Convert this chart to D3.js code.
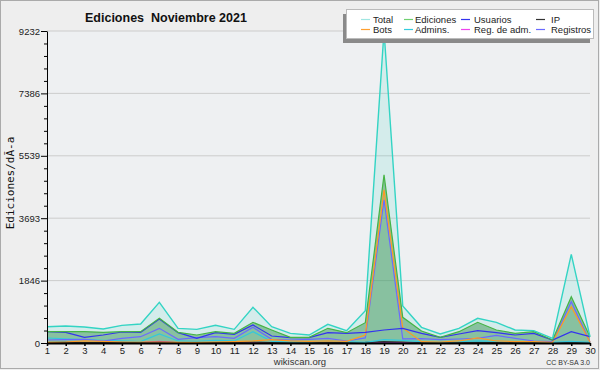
<!DOCTYPE html>
<html>
<head>
<meta charset="utf-8">
<script src="https://cdn.jsdelivr.net/npm/d3@7"></script>
<style>
body { margin: 0; background: #eeeeee; }
svg { display: block; }
.axis text { font-family: "Liberation Sans", sans-serif; font-size: 9.5px; fill: #222; }
.axis path, .axis line { stroke: #000; }
</style>
</head>
<body>
<svg width="600" height="370"></svg>
<script>
// Days of the month
var days = [1, 2, 3, 4, 5, 6, 7, 8, 9, 10, 11, 12, 13, 14, 15, 16, 17, 18, 19, 20, 21, 22, 23, 24, 25, 26, 27, 28, 29, 30];
var yTicks = [0, 1846, 3693, 5539, 7386, 9232];

// Values
var total      = [483, 503, 473, 414, 523, 562, 1205, 434, 404, 523, 404, 1057, 483, 286, 237, 553, 365, 957, 9232, 1095, 464, 266, 434, 730, 612, 385, 365, 138, 2625, 187];
var ediciones  = [335, 335, 335, 316, 335, 335, 730, 316, 237, 335, 286, 612, 385, 168, 168, 434, 306, 602, 4973, 760, 355, 168, 335, 612, 385, 286, 335, 89, 1370, 187];
var usuarios   = [335, 316, 168, 237, 326, 316, 710, 306, 138, 306, 257, 533, 207, 158, 158, 306, 286, 316, 385, 434, 286, 168, 266, 365, 306, 237, 286, 89, 335, 187];
var ip         = [15, 20, 15, 10, 20, 15, 30, 15, 10, 15, 20, 25, 15, 10, 10, 20, 15, 20, 40, 30, 15, 10, 15, 20, 15, 10, 15, 5, 20, 10];
var bots       = [20, 30, 60, 50, 30, 30, 30, 20, 20, 30, 40, 60, 100, 60, 50, 60, 50, 237, 4530, 444, 40, 30, 60, 150, 60, 40, 40, 20, 1075, 30];
var admins     = [148, 120, 100, 80, 60, 40, 266, 60, 50, 80, 60, 335, 50, 30, 30, 60, 40, 20, 100, 80, 40, 30, 40, 60, 50, 40, 40, 20, 50, 20];
var regAdm     = [5, 5, 5, 5, 5, 10, 50, 5, 5, 5, 5, 15, 5, 5, 5, 5, 5, 5, 10, 10, 5, 5, 5, 5, 5, 5, 5, 5, 10, 5];
var registros  = [89, 100, 110, 59, 138, 187, 434, 109, 158, 187, 138, 464, 109, 89, 109, 138, 59, 150, 4233, 120, 130, 100, 118, 138, 226, 138, 59, 40, 1222, 30];

var seriesNames = ['Total', 'Ediciones', 'Usuarios', 'IP', 'Bots', 'Admins.', 'Reg. de adm.', 'Registros'];
var seriesColors = ['#33d4c4', '#44b444', '#3333ee', '#333333', '#ff9922', '#33c8dc', '#e040ee', '#6a6aff'];
var legendColors = ['#a0e6e2', '#70d070', '#3333ee', '#333333', '#ffa030', '#33ccdd', '#ee44ee', '#6a6aff'];
var seriesValues = [total, ediciones, usuarios, ip, bots, admins, regAdm, registros];

var svg = d3.select('svg');

var plot = {l: 47, r: 590, t: 31, b: 343};

// frame
svg.append('rect')
    .attr('x', 0.5).attr('y', 0.5)
    .attr('width', 598).attr('height', 368)
    .attr('fill', '#eeeeee')
    .attr('stroke', '#aaaaaa');

svg.append('rect')
    .attr('x', plot.l).attr('y', plot.t)
    .attr('width', plot.r - plot.l).attr('height', plot.b - plot.t)
    .attr('fill', '#eef0f2');

var x = d3.scaleLinear().domain([1, 30]).range([plot.l, plot.r]);
var y = d3.scaleLinear().domain([0, 9232]).range([plot.b, plot.t]);

// grid lines
svg.append('g').selectAll('line')
    .data(yTicks.slice(1))
    .enter().append('line')
    .attr('x1', plot.l).attr('x2', plot.r)
    .attr('y1', function(d) { return y(d); })
    .attr('y2', function(d) { return y(d); })
    .attr('stroke', '#cccccc');

// areas for Total and Ediciones
var area = d3.area()
    .x(function(d, i) { return x(days[i]); })
    .y0(y(0))
    .y1(function(d) { return y(d); });

svg.append('path').datum(total)
    .attr('d', area)
    .attr('fill', 'rgba(60, 215, 195, 0.14)');

svg.append('path').datum(ediciones)
    .attr('d', area)
    .attr('fill', 'rgba(60, 150, 85, 0.5)');

var line = d3.line()
    .x(function(d, i) { return x(days[i]); })
    .y(function(d) { return y(d); });

// draw order: small ones first, Total on top
var order = [6, 3, 5, 7, 4, 2, 1, 0];
order.forEach(function(k) {
    svg.append('path').datum(seriesValues[k])
        .attr('d', line)
        .attr('fill', 'none')
        .attr('stroke', seriesColors[k])
        .attr('stroke-width', k === 0 ? 1.4 : 1.2);
});

// axes
var yMinor = [];
for (var i = 0; i < yTicks.length - 1; i++) {
    for (var j = 1; j < 5; j++) {
        yMinor.push(yTicks[i] + (yTicks[i + 1] - yTicks[i]) * j / 5);
    }
}

svg.append('g')
    .attr('class', 'axis')
    .attr('transform', 'translate(' + plot.l + ',0)')
    .call(d3.axisLeft(y).tickValues(yMinor).tickSize(3).tickFormat(''))
    .select('.domain').remove();

var yAxisG = svg.append('g')
    .attr('class', 'axis')
    .attr('transform', 'translate(' + plot.l + ',0)')
    .call(d3.axisLeft(y).tickValues(yTicks).tickSize(6).tickSizeOuter(0).tickPadding(1).tickFormat(d3.format('d')));

var xAxisG = svg.append('g')
    .attr('class', 'axis')
    .attr('transform', 'translate(0,' + plot.b + ')')
    .call(d3.axisBottom(x).tickValues(days).tickSize(3).tickSizeOuter(0).tickPadding(1));
xAxisG.select('.domain').attr('stroke-width', 2);
xAxisG.selectAll('.tick line').attr('stroke-width', 1.5);

// title
svg.append('text')
    .attr('x', 85).attr('y', 22)
    .style('font-family', '"Liberation Sans", sans-serif')
    .style('font-size', '12.5px')
    .style('font-weight', 'bold')
    .attr('fill', '#111')
    .attr('xml:space', 'preserve')
    .text('Ediciones  Noviembre 2021');

// y axis label
svg.append('text')
    .attr('transform', 'translate(14,183) rotate(-90)')
    .attr('text-anchor', 'middle')
    .style('font-family', '"DejaVu Sans Mono", monospace')
    .style('font-size', '11px')
    .attr('fill', '#111')
    .text('Ediciones/dÃ-a');

svg.append('text')
    .attr('x', 300).attr('y', 365)
    .attr('text-anchor', 'middle')
    .style('font-family', '"Liberation Sans", sans-serif')
    .style('font-size', '9.5px')
    .attr('fill', '#333')
    .text('wikiscan.org');

svg.append('text')
    .attr('x', 590).attr('y', 365)
    .attr('text-anchor', 'end')
    .style('font-family', '"Liberation Sans", sans-serif')
    .style('font-size', '7px')
    .attr('fill', '#333')
    .text('CC BY-SA 3.0');

// legend
var legendG = svg.append('g');
legendG.append('rect')
    .attr('x', 343).attr('y', 14)
    .attr('width', 247).attr('height', 29)
    .attr('fill', '#8a8a8a');
legendG.append('rect')
    .attr('x', 346.5).attr('y', 9.5)
    .attr('width', 247).attr('height', 29)
    .attr('fill', '#ffffff')
    .attr('stroke', '#bbbbbb');

var lineX = [361, 404, 461, 536];
var textX = [373, 415, 474, 551];
var rowY = [19.5, 29.5];
seriesNames.forEach(function(name, k) {
    var col = k % 4;
    var cy = rowY[Math.floor(k / 4)];
    legendG.append('line')
        .attr('x1', lineX[col]).attr('x2', lineX[col] + 9)
        .attr('y1', cy).attr('y2', cy)
        .attr('stroke', legendColors[k])
        .attr('stroke-width', 1.2);
    legendG.append('text')
        .attr('x', textX[col]).attr('y', cy + 3.5)
        .style('font-family', '"Liberation Sans", sans-serif')
        .style('font-size', '9.5px')
        .attr('fill', '#222')
        .text(name);
});
</script>
</body>
</html>
